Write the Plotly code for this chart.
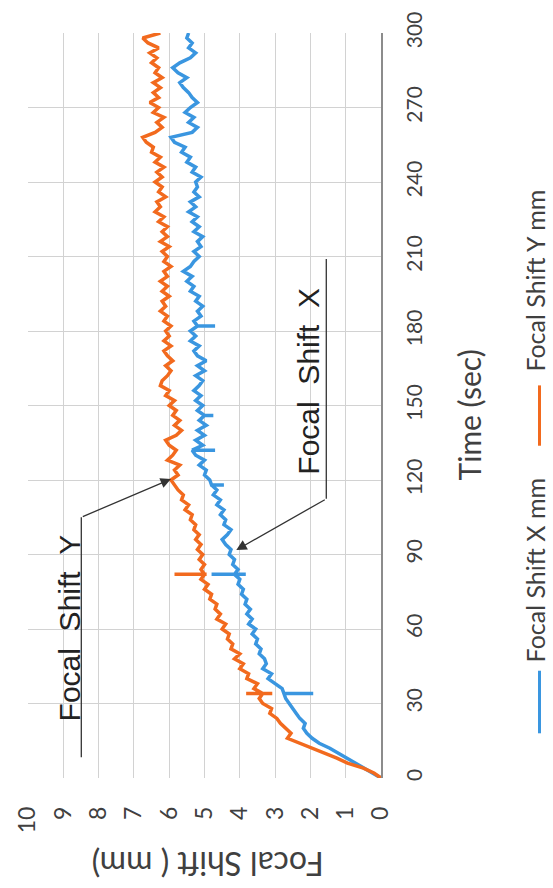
import plotly.graph_objects as go

# Sample times (s) and measured focal shift (mm) for each axis
time_s = list(range(0, 301, 2))

shift_y_mm = [
    0.00, 0.20, 0.50, 0.95, 1.25, 1.60, 1.95, 2.35, 2.65, 2.55,
    2.70, 2.85, 2.95, 3.15, 3.10, 3.35, 3.45, 3.35,
    3.60, 3.50, 3.80, 3.75, 4.00, 3.90, 4.15, 4.00, 4.25, 4.20,
    4.35, 4.30, 4.50, 4.40, 4.65, 4.55, 4.70, 4.65, 4.85, 4.80,
    5.00, 4.90, 5.10, 5.00, 5.10, 5.00, 5.15, 5.05, 5.20, 5.10,
    5.25, 5.15, 5.30, 5.25, 5.40, 5.35, 5.55, 5.45, 5.65, 5.60,
    5.75, 5.85,
    5.95, 5.75, 5.85, 5.70, 6.05, 5.90, 5.80, 6.00, 6.10, 5.80,
    5.65, 5.85, 5.70, 5.90, 5.80, 6.00, 5.85, 6.10, 6.00, 6.25,
    6.20, 6.05, 5.95, 6.10, 5.90, 6.05, 6.15, 5.95, 6.15, 6.00,
    6.10, 5.95, 6.15, 6.05, 6.25, 6.10, 6.20, 6.00, 6.20, 6.05,
    6.25, 6.05, 6.15, 5.95, 6.15, 6.05, 6.20, 6.00, 6.25, 6.05,
    6.20, 6.05, 6.30, 6.15, 6.40, 6.25, 6.35, 6.10, 6.30, 6.20,
    6.40, 6.20, 6.35, 6.15, 6.40, 6.25, 6.50, 6.45, 6.65, 6.75,
    6.40, 6.20, 6.35, 6.15, 6.45, 6.30, 6.55, 6.30, 6.45, 6.25,
    6.45, 6.20, 6.40, 6.30, 6.50, 6.35, 6.55, 6.30, 6.60, 6.75,
    6.25,
]

shift_x_mm = [
    0.00, 0.25, 0.50, 0.75, 0.95, 1.20, 1.45, 1.75, 1.95, 2.10,
    2.20, 2.15, 2.30, 2.40, 2.50, 2.60, 2.70, 2.75,
    2.80, 3.00, 3.20, 3.10, 3.35, 3.25, 3.30, 3.45, 3.40, 3.55,
    3.50, 3.65, 3.55, 3.75, 3.65, 3.80, 3.70, 3.85, 3.80, 3.95,
    3.90, 4.05, 4.00, 4.15, 4.05, 4.20, 4.15, 4.30, 4.25, 4.40,
    4.50, 4.35, 4.25, 4.45, 4.40, 4.55, 4.45, 4.65, 4.55, 4.75,
    4.65, 4.80,
    4.85, 5.00, 4.95, 5.15, 5.00, 5.25, 5.35, 5.05, 5.25, 5.00,
    5.20, 4.95, 5.15, 5.00, 5.20, 5.05, 5.25, 5.10, 5.30, 5.15,
    5.05, 5.25, 5.00, 5.20, 4.95, 5.20, 5.30, 5.15, 5.40, 5.25,
    5.40, 5.20, 5.30, 5.10, 5.20, 5.05, 5.25, 5.15, 5.40, 5.30,
    5.50, 5.35, 5.60, 5.40, 5.30, 5.15, 5.30, 5.10, 5.20, 5.05,
    5.30, 5.15, 5.35, 5.20, 5.45, 5.25, 5.40, 5.15, 5.30, 5.20,
    5.25, 5.10, 5.35, 5.25, 5.50, 5.40, 5.65, 5.55, 5.85, 5.95,
    5.35, 5.20, 5.45, 5.30, 5.55, 5.40, 5.20, 5.35, 5.45, 5.60,
    5.70, 5.50, 5.75, 5.90, 5.70, 5.40, 5.25, 5.45, 5.35, 5.50,
    5.45,
]

# Momentary excursions (time s, value mm)
spike_y_time = [34, 34, 82, 82]
spike_y_mm = [3.82, 3.08, 5.85, 4.94]
spike_x_time = [34, 82, 82, 118, 132, 146, 182]
spike_x_mm = [1.92, 4.80, 3.83, 4.45, 4.70, 4.75, 4.70]

axis_ticks_mm = list(range(0, 11))
axis_ticks_s = list(range(0, 301, 30))

ORANGE = "#F26A1E"
BLUE = "#3A96E0"
TEXT = "#404040"
TICK_FONT = "Lato"
NOTE_FONT = "Liberation Sans"


def with_spikes(times, values, s_times, s_values):
    xs, ys = [], []
    for t, v in zip(times, values):
        xs.append(v)
        ys.append(t)
        extra = [sv for st, sv in zip(s_times, s_values) if st == t]
        if extra:
            for sv in extra:
                xs.append(sv)
                ys.append(t)
            xs.append(v)
            ys.append(t)
    return xs, ys


fx, ty_x = with_spikes(time_s, shift_x_mm, spike_x_time, spike_x_mm)
fy, ty_y = with_spikes(time_s, shift_y_mm, spike_y_time, spike_y_mm)

fig = go.Figure()
fig.add_trace(go.Scatter(x=fx, y=ty_x, mode="lines", name="Focal Shift X mm",
                         line=dict(color=BLUE, width=3.5), showlegend=False))
fig.add_trace(go.Scatter(x=fy, y=ty_y, mode="lines", name="Focal Shift Y mm",
                         line=dict(color=ORANGE, width=3.5), showlegend=False))

fig.update_layout(
    width=553, height=888,
    margin=dict(l=21, r=172, t=27, b=110),
    paper_bgcolor="white", plot_bgcolor="white",
    xaxis=dict(
        range=[10, 0], tickvals=axis_ticks_mm, showgrid=True,
        gridcolor="#d2d2d2", gridwidth=1, zeroline=False, showline=False,
        tickangle=-90, ticks="", ticklabelstandoff=23,
        tickfont=dict(family=TICK_FONT, size=23, color=TEXT),
    ),
    yaxis=dict(
        range=[0, 300], tickvals=axis_ticks_s, side="right", showgrid=True,
        gridcolor="#d2d2d2", gridwidth=1, zeroline=False,
        showline=True, linecolor="#8c8c8c", linewidth=1.5,
        tickangle=-90, ticks="", ticklabelstandoff=14,
        tickfont=dict(family=TICK_FONT, size=21, color=TEXT),
    ),
)

# Axis titles
fig.add_annotation(text="Focal Shift ( mm)", xref="paper", yref="paper",
                   x=0.508, y=-0.117, textangle=180, showarrow=False,
                   xanchor="center", yanchor="middle",
                   font=dict(family=TICK_FONT, size=32, color=TEXT))
fig.add_annotation(text="Time (sec)", xref="paper", yref="paper",
                   x=1.25, y=0.487, textangle=-90, showarrow=False,
                   xanchor="center", yanchor="middle",
                   font=dict(family=TICK_FONT, size=30, color=TEXT))

# Legend
for label, color, y0, y1, yt in [
    ("Focal Shift Y mm", ORANGE, 0.446, 0.527, 0.668),
    ("Focal Shift X mm", BLUE, 0.060, 0.144, 0.279),
]:
    fig.add_shape(type="line", xref="paper", yref="paper",
                  x0=1.449, x1=1.449, y0=y0, y1=y1,
                  line=dict(color=color, width=3))
    fig.add_annotation(text=label, xref="paper", yref="paper",
                       x=1.437, y=yt, textangle=-90, showarrow=False,
                       xanchor="center", yanchor="middle",
                       font=dict(family=TICK_FONT, size=25, color=TEXT))

# Callouts
LEADER = "#333333"
fig.add_shape(type="line", x0=8.49, x1=8.49, y0=8.4, y1=105,
              line=dict(color=LEADER, width=1.3))
fig.add_annotation(x=5.95, y=120.4, ax=8.49, ay=105, axref="x", ayref="y",
                   text="", showarrow=True, arrowhead=2, arrowsize=1.6,
                   arrowwidth=1.3, arrowcolor=LEADER)
fig.add_annotation(text="Focal\u00a0\u00a0Shift\u00a0\u00a0Y", x=8.82, y=60.5,
                   textangle=-90, showarrow=False,
                   xanchor="center", yanchor="middle",
                   font=dict(family=NOTE_FONT, size=30, color="#222222"))

fig.add_shape(type="line", x0=1.55, x1=1.55, y0=112.4, y1=209,
              line=dict(color=LEADER, width=1.3))
fig.add_annotation(x=4.10, y=91.8, ax=1.55, ay=112.4, axref="x", ayref="y",
                   text="", showarrow=True, arrowhead=2, arrowsize=1.6,
                   arrowwidth=1.3, arrowcolor=LEADER)
fig.add_annotation(text="Focal\u00a0\u00a0Shift\u00a0\u00a0X", x=2.04, y=160,
                   textangle=-90, showarrow=False,
                   xanchor="center", yanchor="middle",
                   font=dict(family=NOTE_FONT, size=30, color="#222222"))

fig.write_html("out.html")
